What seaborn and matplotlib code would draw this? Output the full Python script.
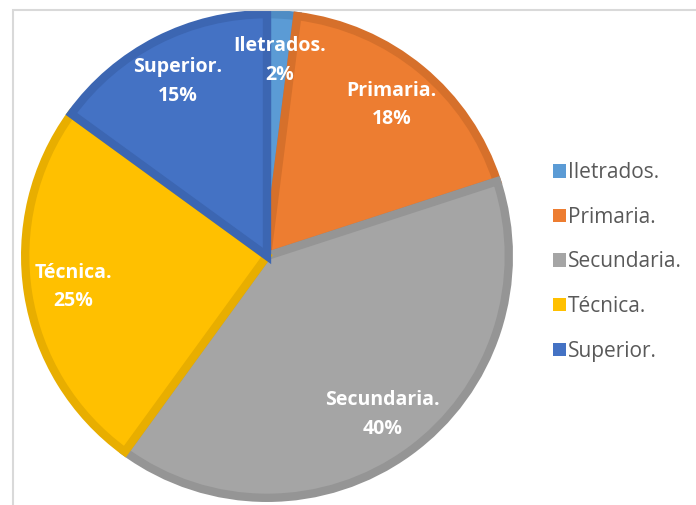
import matplotlib
matplotlib.use("Agg")
import matplotlib.pyplot as plt
import seaborn as sns
from matplotlib.patches import Rectangle

categories = ["Iletrados.", "Primaria.", "Secundaria.", "Técnica.", "Superior."]
percentages = [2, 18, 40, 25, 15]
fill_colors = ["#5B9BD5", "#ED7D31", "#A5A5A5", "#FFC000", "#4472C4"]
edge_colors = ["#4F8CC4", "#D6702B", "#959595", "#E8AE00", "#3C66B2"]

sns.set_theme(style="white")
plt.rcParams["font.family"] = ["Open Sans", "DejaVu Sans"]

fig = plt.figure(figsize=(6.96, 5.05), dpi=100)
W, H = 696, 505
cx, cy, R = 267, 256, 246
ax = fig.add_axes([(cx - R) / W, (H - cy - R) / H, 2 * R / W, 2 * R / H])

labels = [f"{c}\n{p}%" for c, p in zip(categories, percentages)]
wedges, texts = ax.pie(
    percentages,
    labels=labels,
    colors=fill_colors,
    startangle=90,
    counterclock=False,
    labeldistance=0.81,
    radius=0.983,
    wedgeprops=dict(linewidth=6, linestyle="-"),
    textprops=dict(color="white", fontweight="bold", fontsize=14, linespacing=1.55),
)
for w, ec in zip(wedges, edge_colors):
    w.set_edgecolor(ec)
    w.set_joinstyle("miter")
for t in texts:
    t.set_ha("center")
    t.set_va("center")
ax.set_xlim(-1, 1)
ax.set_ylim(-1, 1)
ax.set_aspect("equal")
for w in wedges:
    w.set_clip_on(False)

handles = [Rectangle((0, 0), 1, 1, facecolor=fc, edgecolor="none") for fc in fill_colors]
fig.legend(
    handles, categories,
    loc="upper left", bbox_to_anchor=(545 / W, (H - 154) / H),
    frameon=False, fontsize=15, handlelength=0.6, handleheight=0.6,
    handletextpad=0.12, labelspacing=1.13, borderaxespad=0,
    labelcolor="#595959",
)

fig.add_artist(Rectangle((13 / W, -0.1), 1.2, (H - 10) / H + 0.1,
                         transform=fig.transFigure, fill=False,
                         edgecolor="#D9D9D9", linewidth=1.5))

fig.savefig("out.png", dpi=100)
